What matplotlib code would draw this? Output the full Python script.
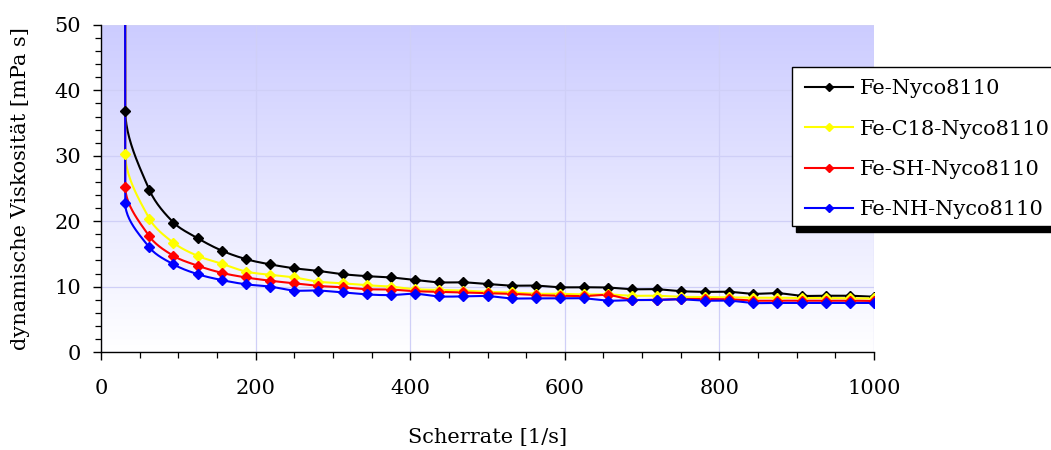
import numpy as np
import matplotlib
matplotlib.use("Agg")
import matplotlib.pyplot as plt
from matplotlib.patches import Rectangle
from matplotlib.lines import Line2D

# ---------------- data ----------------
shear_rate = [31.25 * k for k in range(1, 33)]
spike_x = 31.0  # first (off-scale) measurement
series_names = ["Fe-Nyco8110", "Fe-C18-Nyco8110", "Fe-SH-Nyco8110", "Fe-NH-Nyco8110"]
series_colors = ["#000000", "#FFFF00", "#FF0000", "#0000FF"]
spike_values = [200, 200, 200, 200]

fe_nyco = [36.9, 24.8, 19.8, 17.4, 15.5, 14.2, 13.4, 12.8, 12.4, 11.9, 11.6, 11.4,
           11.0, 10.65, 10.65, 10.4, 10.15, 10.15, 9.9, 9.9, 9.85, 9.6, 9.6, 9.3,
           9.2, 9.2, 8.9, 9.0, 8.6, 8.6, 8.6, 8.45]
fe_c18 = [30.3, 20.4, 16.7, 14.7, 13.5, 12.3, 11.8, 11.4, 10.75, 10.5, 10.2, 10.0,
          9.6, 9.5, 9.4, 9.2, 9.1, 8.9, 8.9, 8.8, 8.8, 8.6, 8.6, 8.45,
          8.4, 8.35, 8.3, 8.3, 8.25, 8.25, 8.2, 8.2]
fe_sh = [25.3, 17.7, 14.7, 13.2, 12.1, 11.4, 10.9, 10.5, 10.1, 9.9, 9.6, 9.55,
         9.3, 9.2, 9.1, 9.0, 8.9, 8.7, 8.6, 8.55, 8.7, 8.0, 8.0, 8.1,
         8.1, 8.05, 7.85, 7.85, 7.85, 7.85, 7.85, 7.8]
fe_nh = [22.8, 16.0, 13.4, 11.9, 11.0, 10.35, 10.0, 9.4, 9.4, 9.1, 8.8, 8.7,
         8.9, 8.5, 8.5, 8.55, 8.2, 8.2, 8.2, 8.2, 7.85, 7.95, 7.95, 8.05,
         7.85, 7.85, 7.5, 7.5, 7.5, 7.5, 7.5, 7.5]
all_series = [fe_nyco, fe_c18, fe_sh, fe_nh]

x_ticks = [0, 200, 400, 600, 800, 1000]
y_ticks = [0, 10, 20, 30, 40, 50]
x_label = "Scherrate [1/s]"
y_label = "dynamische Viskosität [mPa s]"

plt.rcParams['font.family'] = ['DejaVu Serif']
fs = 15

fig = plt.figure(figsize=(10.51, 4.5), dpi=100)
L, R, B, T = 101 / 1051, 874 / 1051, (450 - 352) / 450, (450 - 25) / 450
ax = fig.add_axes([L, B, R - L, T - B])
ax.set_xlim(0, 1000)
ax.set_ylim(0, 50)


def smooth_path(xs, ys, n=24):
    """Excel-like smoothed line: Bezier control points scaled by segment
    lengths measured in display space."""
    P = ax.transData.transform(np.column_stack([xs, ys]))
    m = len(P)
    d = np.hypot(*np.diff(P, axis=0).T)
    out = [P[0], P[1]]  # straight drop from the off-scale point
    t = np.linspace(0, 1, n + 1)[1:]
    for i in range(1, m - 1):
        p1, p2 = P[i], P[i + 1]
        p0 = P[i - 1]
        p3 = P[i + 2] if i + 2 < m else P[i + 1]
        d01 = d[i - 1]; d12 = d[i]; d23 = d[i + 1] if i + 1 < len(d) else 0.0
        c1 = p1 + (p2 - p0) * d12 / (d01 + d12) / 3.0
        c2 = p2 - (p3 - p1) * d12 / (d12 + d23) / 3.0 if d23 > 0 else p2
        seg = ((1 - t) ** 3)[:, None] * p1 + (3 * (1 - t) ** 2 * t)[:, None] * c1 \
            + (3 * (1 - t) * t ** 2)[:, None] * c2 + (t ** 3)[:, None] * p2
        out.extend(seg)
    out = np.array(out)
    return ax.transData.inverted().transform(out)


# gradient background
grad = np.linspace(1, 0, 256)[:, None]
top = np.array([0.80, 0.80, 1.0]); bot = np.array([1.0, 1.0, 1.0])
img = bot[None, None, :] * (1 - grad[..., None]) + top[None, None, :] * grad[..., None]
img = np.repeat(img, 2, axis=1)
ax.imshow(img, extent=[0, 1000, 0, 50], aspect='auto', zorder=0, interpolation='bilinear')

ax.set_xlim(0, 1000)
ax.set_ylim(0, 50)
ax.set_xticks(x_ticks)
ax.set_yticks(y_ticks)
ax.set_xticks(np.arange(0, 1001, 50), minor=True)
ax.set_yticks(np.arange(0, 51, 2), minor=True)
ax.grid(True, which='major', color=(0.81, 0.81, 0.97), lw=0.9, zorder=1)
ax.set_axisbelow(True)
for s in ['top', 'right']:
    ax.spines[s].set_visible(False)
for s in ['left', 'bottom']:
    ax.spines[s].set_linewidth(1.0)
ax.tick_params(which='major', direction='out', length=5.5, width=1.0, labelsize=fs)
ax.tick_params(axis='x', which='major', pad=14)
ax.tick_params(axis='y', which='major', pad=9)
ax.tick_params(which='minor', direction='out', length=4, width=0.9)

for name, color, vals, sp in zip(series_names, series_colors, all_series, spike_values):
    pts = smooth_path([spike_x] + shear_rate, [sp] + vals)
    ax.plot(pts[:, 0], pts[:, 1], color=color, lw=1.5, zorder=3)
    ax.plot(shear_rate, vals, ls='none', marker='D', ms=5, color=color,
            markeredgecolor=color, zorder=4)

ax.set_xlabel(x_label, fontsize=fs)
ax.set_ylabel(y_label, fontsize=fs)
ax.xaxis.set_label_coords(0.5, (352 - 428) / 327)
ax.yaxis.set_label_coords((30 - 101) / 773, 0.5)

# legend box with hard shadow
bx0, by0, bx1, by1 = 792, 67, 1060, 226
def fx(px): return px / 1051
def fy(py): return 1 - py / 450
fig.patches.append(Rectangle((fx(bx0 + 4), fy(by1 + 6)), fx(bx1 - bx0), fy(by0) - fy(by1),
                             transform=fig.transFigure, facecolor='black', edgecolor='black', zorder=5))
fig.patches.append(Rectangle((fx(bx0), fy(by1)), fx(bx1 - bx0), fy(by0) - fy(by1),
                             transform=fig.transFigure, facecolor='white', edgecolor='black', lw=1.0, zorder=6))
handles = [Line2D([], [], color=c, lw=1.5, marker='D', ms=4.5) for c in series_colors]
leg = fig.legend(handles, series_names, loc='upper left',
                 bbox_to_anchor=(fx(bx0), fy(by0)), frameon=False, fontsize=fs,
                 handlelength=2.35, handletextpad=0.3, labelspacing=1.02,
                 borderpad=0.6, borderaxespad=0)
leg.set_zorder(7)

fig.savefig("out.png", dpi=100)
